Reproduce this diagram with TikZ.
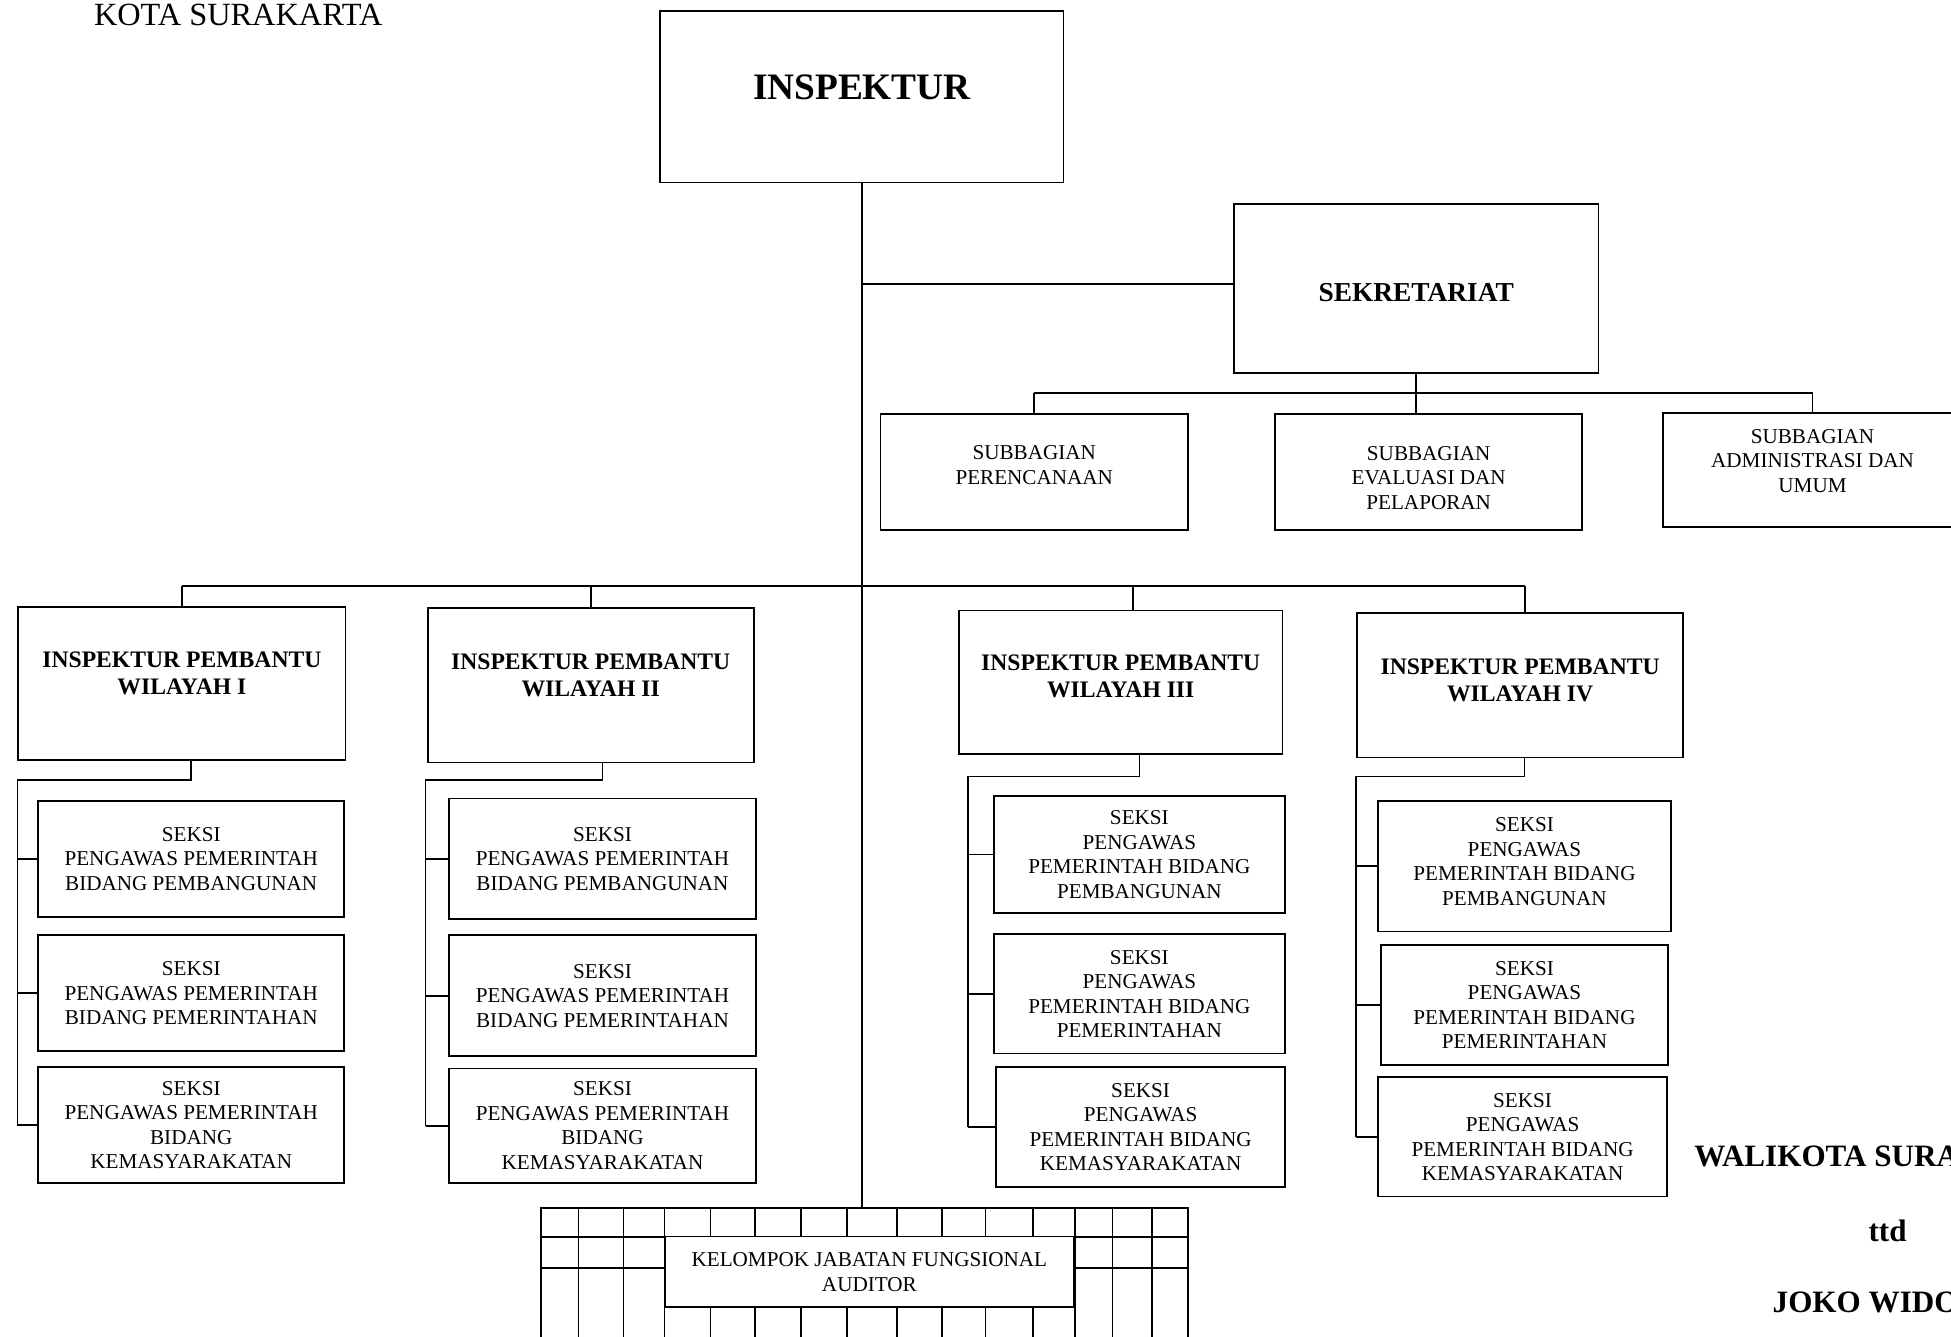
\documentclass[tikz,border=0pt]{standalone}
\usepackage{fontspec}
\setmainfont{Liberation Serif}
\begin{document}
\begin{tikzpicture}[x=1pt,y=-1pt,line width=1.4pt,
  box/.style={draw,anchor=north west,inner sep=0pt,align=center,font=\fontsize{17}{19.7}\selectfont},
  head/.style={box,font=\bfseries\fontsize{19}{21.5}\selectfont},
  sign/.style={inner sep=0pt,font=\bfseries\fontsize{25}{29}\selectfont}]
\useasboundingbox (0,0) rectangle (1568,1074.5);
\node[inner sep=0pt,font=\fontsize{26}{30}\selectfont] (kota) at (191.5,12) {KOTA SURAKARTA};
\node[box,font=\bfseries\fontsize{30}{36}\selectfont,minimum width=324,minimum height=138,text depth=16pt] (insp) at (530,8) {INSPEKTUR};
\node[box,font=\bfseries\fontsize{22}{25}\selectfont,minimum width=293,minimum height=136,text height=21pt] (sek) at (991,163) {SEKRETARIAT};
\node[box,minimum width=247,minimum height=93,text depth=11pt] (sb1) at (707,332) {SUBBAGIAN\\PERENCANAAN};
\node[box,minimum width=247,minimum height=93,text height=60pt] (sb2) at (1024,332) {SUBBAGIAN\\EVALUASI DAN\\PELAPORAN};
\node[box,minimum width=240,minimum height=92,text depth=15pt] (sb3) at (1336,331) {SUBBAGIAN\\ADMINISTRASI DAN\\UMUM};
\node[head,minimum width=263,minimum height=123,text depth=16pt] (ipw1) at (14,487) {INSPEKTUR PEMBANTU\\WILAYAH I};
\node[head,minimum width=262,minimum height=124,text depth=16pt] (ipw2) at (343,488) {INSPEKTUR PEMBANTU\\WILAYAH II};
\node[head,minimum width=260,minimum height=115,text depth=9pt] (ipw3) at (770,490) {INSPEKTUR PEMBANTU\\WILAYAH III};
\node[head,minimum width=262,minimum height=116,text depth=8pt] (ipw4) at (1090,492) {INSPEKTUR PEMBANTU\\WILAYAH IV};
\node[box,minimum width=246,minimum height=93] (s11) at (30,643) {SEKSI\\PENGAWAS PEMERINTAH\\BIDANG PEMBANGUNAN};
\node[box,minimum width=246,minimum height=93] (s12) at (30,751) {SEKSI\\PENGAWAS PEMERINTAH\\BIDANG PEMERINTAHAN};
\node[box,minimum width=246,minimum height=93] (s13) at (30,857) {SEKSI\\PENGAWAS PEMERINTAH\\BIDANG\\KEMASYARAKATAN};
\node[box,minimum width=247,minimum height=97] (s21) at (360,641) {SEKSI\\PENGAWAS PEMERINTAH\\BIDANG PEMBANGUNAN};
\node[box,minimum width=247,minimum height=97] (s22) at (360,751) {SEKSI\\PENGAWAS PEMERINTAH\\BIDANG PEMERINTAHAN};
\node[box,minimum width=247,minimum height=92] (s23) at (360,858) {SEKSI\\PENGAWAS PEMERINTAH\\BIDANG\\KEMASYARAKATAN};
\node[box,minimum width=234,minimum height=94] (s31) at (798,639) {SEKSI\\PENGAWAS\\PEMERINTAH BIDANG\\PEMBANGUNAN};
\node[box,minimum width=234,minimum height=96] (s32) at (798,750) {SEKSI\\PENGAWAS\\PEMERINTAH BIDANG\\PEMERINTAHAN};
\node[box,minimum width=232,minimum height=96] (s33) at (800,857) {SEKSI\\PENGAWAS\\PEMERINTAH BIDANG\\KEMASYARAKATAN};
\node[box,minimum width=235,minimum height=105,text depth=8pt] (s41) at (1107,643) {SEKSI\\PENGAWAS\\PEMERINTAH BIDANG\\PEMBANGUNAN};
\node[box,minimum width=231,minimum height=96] (s42) at (1109,759) {SEKSI\\PENGAWAS\\PEMERINTAH BIDANG\\PEMERINTAHAN};
\node[box,minimum width=232,minimum height=96] (s43) at (1107,865) {SEKSI\\PENGAWAS\\PEMERINTAH BIDANG\\KEMASYARAKATAN};
\node[draw,anchor=north west,inner sep=0pt,minimum width=520,minimum height=120] (kjf) at (434,970) {};
\foreach \x in {465,501,534,571,607,644,681,721,757,792,830,864,894,926}
  \draw (\x,970) -- (\x,1090);
\foreach \y in {994,1019}
  \draw (434,\y) -- (954,\y);
\node[box,fill=white,minimum width=328,minimum height=57] (kjfbox) at (534,993) {KELOMPOK JABATAN FUNGSIONAL\\AUDITOR};
\draw (insp.south) -- (insp.south |- kjf.north);
\draw (insp.south |- 0,228) -- (sek.west |- 0,228);
\coordinate (sbbar) at (0,316);
\draw (sek.south) -- (sek.south |- sb2.north);
\draw (sb1.north |- sbbar) -- (sb3.north |- sbbar);
\draw (sb1.north |- sbbar) -- (sb1.north);
\draw (sb3.north |- sbbar) -- (sb3.north);
\coordinate (ipwbar) at (0,471);
\draw (ipw1.north |- ipwbar) -- ([xshift=4pt]ipw4.north |- ipwbar);
\draw (ipw1.north |- ipwbar) -- (ipw1.north);
\draw (ipw2.north |- ipwbar) -- (ipw2.north);
\draw ([xshift=10pt]ipw3.north |- ipwbar) -- ([xshift=10pt]ipw3.north);
\draw ([xshift=4pt]ipw4.north |- ipwbar) -- ([xshift=4pt]ipw4.north);
\foreach \i/\sx/\ky in {1/14/627,2/342/627,3/778/624,4/1090/624} {
  \coordinate (k\i) at (\sx,\ky);
  \draw (ipw\i.south -| s\i1.north) -- (k\i -| s\i1.north) -- (k\i) -- (k\i |- s\i3.west);
  \foreach \j in {1,2,3}
    \draw (k\i |- s\i\j.west) -- (s\i\j.west);
}
\node[sign,anchor=west] (wali) at (1361,929) {WALIKOTA SURAKARTA};
\node[sign] (ttd) at (1517,989) {ttd};
\node[sign,anchor=west] (joko) at (1424,1047) {JOKO WIDODO};
\end{tikzpicture}
\end{document}
